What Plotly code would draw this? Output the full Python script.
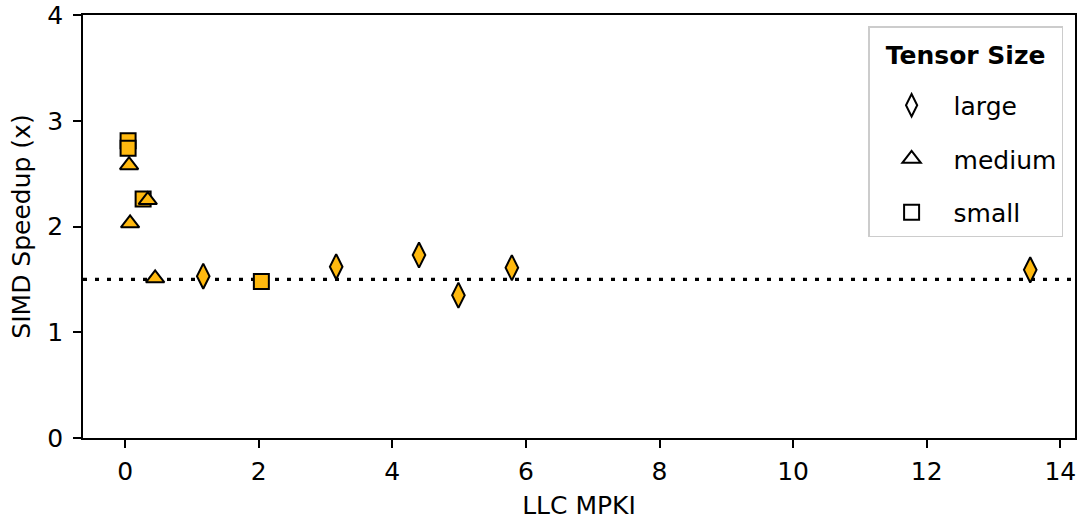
import plotly.graph_objects as go

# Data (LLC MPKI, SIMD speedup) per tensor size
large_x = [1.17, 3.16, 4.40, 4.99, 5.79, 13.55]
large_y = [1.53, 1.62, 1.73, 1.35, 1.61, 1.59]
medium_x = [0.06, 0.075, 0.34, 0.45]
medium_y = [2.58, 2.03, 2.25, 1.51]
small_x = [0.045, 0.045, 0.27, 2.04]
small_y = [2.81, 2.74, 2.26, 1.48]
baseline = 1.5
x_ticks = [0, 2, 4, 6, 8, 10, 12, 14]
y_ticks = [0, 1, 2, 3, 4]

sizes = ["large", "medium", "small"]
symbols = {"large": "diamond-tall", "medium": "triangle-up", "small": "square"}
msize = {"large": 18, "medium": 16, "small": 15}
fill = "#FFB90F"
FONT = "DejaVu Sans"
XR = [-0.63, 14.22]

fig = go.Figure()

fig.add_trace(go.Scatter(x=XR, y=[baseline, baseline], mode="lines",
                         line=dict(color="black", width=3.2, dash="4px,8px"),
                         showlegend=False, hoverinfo="skip"))

data = {"large": (large_x, large_y), "medium": (medium_x, medium_y), "small": (small_x, small_y)}
for s in ["small", "medium", "large"]:
    xs, ys = data[s]
    fig.add_trace(go.Scatter(x=xs, y=ys, mode="markers", name=s, showlegend=False,
                             marker=dict(symbol=symbols[s], size=msize[s], color=fill,
                                         line=dict(color="black", width=2))))

for s in sizes:
    fig.add_trace(go.Scatter(x=[None], y=[None], mode="markers", name=s,
                             legendgroup=s, showlegend=True,
                             marker=dict(symbol=symbols[s], size=msize[s], color="white",
                                         line=dict(color="black", width=2))))

axis_common = dict(showline=True, linecolor="black", linewidth=1.5, mirror=True,
                   ticks="outside", ticklen=8, tickwidth=1.5, tickcolor="black",
                   showgrid=False, zeroline=False, automargin=False,
                   tickfont=dict(family=FONT, size=25, color="black"))

fig.update_layout(
    width=1080, height=520,
    margin=dict(l=83, r=5, t=15, b=82),
    plot_bgcolor="white", paper_bgcolor="white",
    font=dict(family=FONT, color="black"),
    xaxis=dict(range=XR, tickvals=x_ticks, ticklabelstandoff=2,
               title=dict(text="LLC MPKI", font=dict(family=FONT, size=25), standoff=13),
               **axis_common),
    yaxis=dict(range=[0, 4], tickvals=y_ticks, ticklabelstandoff=5,
               title=dict(text="SIMD Speedup (x)", font=dict(family=FONT, size=25), standoff=10),
               **axis_common),
    legend=dict(x=0.988, y=0.973, xanchor="right", yanchor="top",
                bgcolor="white", bordercolor="#cccccc", borderwidth=1.5,
                title=dict(text=" <br><span style='font-size:25px'><b>Tensor Size</b></span><br> ",
                           font=dict(family=FONT, size=14), side="top center"),
                font=dict(family=FONT, size=25), tracegroupgap=18,
                itemwidth=74),
)

fig.write_html("out.html")
